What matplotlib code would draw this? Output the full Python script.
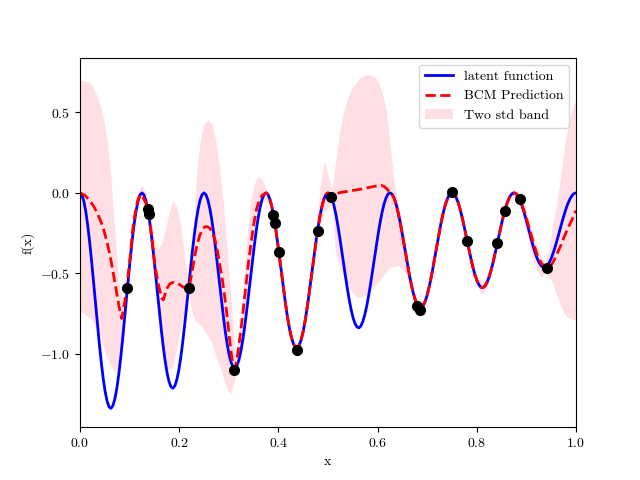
import numpy as np
import matplotlib
matplotlib.use('Agg')
import matplotlib.pyplot as plt

plt.rcParams['font.family'] = 'serif'
plt.rcParams['font.serif'] = ['cmr10']
plt.rcParams['mathtext.fontset'] = 'cm'
plt.rcParams['axes.formatter.use_mathtext'] = True

# latent function, sampled every 1/256 (one row per period)
latent_x = np.linspace(0.0, 1.0, 257)
latent_y = [
    0, -0.013, -0.053, -0.117, -0.203, -0.307, -0.425, -0.553, -0.684, -0.815, -0.941, -1.055, -1.155, -1.235, -1.294, -1.329,
    -1.338, -1.321, -1.279, -1.214, -1.128, -1.025, -0.908, -0.783, -0.653, -0.524, -0.401, -0.288, -0.189, -0.108, -0.049, -0.012,
    0, -0.012, -0.048, -0.106, -0.184, -0.279, -0.386, -0.502, -0.622, -0.741, -0.854, -0.958, -1.048, -1.121, -1.174, -1.205,
    -1.213, -1.197, -1.159, -1.100, -1.022, -0.928, -0.822, -0.708, -0.591, -0.474, -0.362, -0.260, -0.171, -0.098, -0.044, -0.011,
    0, -0.011, -0.044, -0.096, -0.166, -0.251, -0.348, -0.452, -0.559, -0.666, -0.768, -0.861, -0.942, -1.007, -1.054, -1.081,
    -1.088, -1.073, -1.039, -0.985, -0.915, -0.831, -0.736, -0.633, -0.528, -0.424, -0.324, -0.232, -0.152, -0.087, -0.039, -0.010,
    0, -0.010, -0.039, -0.085, -0.148, -0.223, -0.309, -0.402, -0.497, -0.591, -0.682, -0.764, -0.835, -0.892, -0.933, -0.957,
    -0.963, -0.949, -0.918, -0.871, -0.808, -0.733, -0.649, -0.559, -0.466, -0.373, -0.285, -0.204, -0.134, -0.077, -0.035, -0.009,
    0, -0.009, -0.034, -0.075, -0.129, -0.196, -0.271, -0.351, -0.434, -0.517, -0.595, -0.667, -0.728, -0.778, -0.813, -0.833,
    -0.838, -0.826, -0.798, -0.756, -0.702, -0.636, -0.563, -0.484, -0.403, -0.323, -0.246, -0.177, -0.116, -0.066, -0.030, -0.007,
    0, -0.007, -0.029, -0.064, -0.111, -0.168, -0.232, -0.301, -0.372, -0.442, -0.509, -0.569, -0.622, -0.663, -0.693, -0.710,
    -0.713, -0.702, -0.678, -0.642, -0.595, -0.539, -0.476, -0.409, -0.341, -0.273, -0.208, -0.149, -0.097, -0.056, -0.025, -0.006,
    0, -0.006, -0.024, -0.054, -0.093, -0.140, -0.193, -0.251, -0.309, -0.367, -0.422, -0.472, -0.515, -0.549, -0.573, -0.586,
    -0.588, -0.578, -0.558, -0.527, -0.488, -0.442, -0.390, -0.335, -0.278, -0.222, -0.169, -0.121, -0.079, -0.045, -0.020, -0.005,
    0, -0.005, -0.020, -0.043, -0.075, -0.112, -0.155, -0.200, -0.247, -0.293, -0.336, -0.375, -0.408, -0.434, -0.452, -0.462,
    -0.463, -0.454, -0.437, -0.413, -0.381, -0.345, -0.304, -0.260, -0.216, -0.172, -0.131, -0.093, -0.061, -0.035, -0.016, -0.004,
    0]

# two std band, sampled every 1/128
band_x = np.linspace(0.0, 1.0, 129)
band_hi = [0.70, 0.695, 0.69, 0.67, 0.625, 0.56, 0.47, 0.33,
           0.09, -0.25, -0.56, -0.69, -0.56, -0.35, -0.12, 0.01,
           0.05, 0.0, -0.11, -0.26, -0.35, -0.32, -0.23, -0.12,
           -0.045, -0.09, -0.20, -0.40, -0.56, -0.40, 0.10, 0.32,
           0.43, 0.455, 0.43, 0.33, 0.16, -0.065, -0.36, -0.67,
           -1.03, -0.88, -0.62, -0.30, -0.05, 0.06, 0.10, 0.08,
           0.03, -0.01, -0.12, -0.28, -0.47, -0.655, -0.81, -0.905,
           -0.935, -0.89, -0.78, -0.62, -0.43, -0.20, 0.05, 0.20,
           0.12, 0.02, 0.20, 0.38, 0.50, 0.58, 0.64, 0.68,
           0.71, 0.725, 0.735, 0.73, 0.72, 0.69, 0.62, 0.52,
           0.30, 0.08, -0.06, -0.17, -0.32, -0.47, -0.59, -0.665,
           -0.685, -0.65, -0.57, -0.45, -0.315, -0.18, -0.07, 0.0,
           0.025, 0.0, -0.065, -0.165, -0.28, -0.395, -0.485, -0.54,
           -0.55, -0.525, -0.46, -0.365, -0.25, -0.14, -0.05, 0.005,
           0.025, 0.005, -0.04, -0.10, -0.18, -0.26, -0.33, -0.40,
           -0.43, -0.36, -0.20, -0.07, 0.10, 0.29, 0.42, 0.52, 0.58]
band_lo = [-0.735, -0.75, -0.765, -0.785, -0.835, -0.88, -0.955, -1.02,
           -1.075, -1.115, -1.075, -0.80, -0.66, -0.43, -0.20, -0.08,
           -0.06, -0.10, -0.22, -0.46, -0.70, -0.95, -1.07, -1.10,
           -1.075, -0.96, -0.84, -0.71, -0.62, -0.75, -0.80, -0.82,
           -0.85, -0.885, -0.93, -1.01, -1.07, -1.15, -1.22, -1.25,
           -1.15, -1.02, -0.97, -0.74, -0.50, -0.27, -0.12, -0.05,
           -0.04, -0.07, -0.175, -0.335, -0.525, -0.71, -0.86, -0.96,
           -0.99, -0.945, -0.835, -0.68, -0.50, -0.33, -0.20, -0.12,
           -0.10, -0.06, -0.38, -0.46, -0.52, -0.57, -0.61, -0.64,
           -0.65, -0.645, -0.63, -0.61, -0.58, -0.555, -0.52, -0.49,
           -0.46, -0.46, -0.45, -0.47, -0.50, -0.56, -0.66, -0.72,
           -0.745, -0.705, -0.62, -0.50, -0.365, -0.235, -0.12, -0.05,
           -0.025, -0.05, -0.12, -0.22, -0.335, -0.45, -0.545, -0.605,
           -0.63, -0.59, -0.515, -0.415, -0.305, -0.195, -0.105, -0.045,
           -0.03, -0.05, -0.12, -0.22, -0.33, -0.42, -0.49, -0.52,
           -0.50, -0.52, -0.56, -0.63, -0.70, -0.75, -0.775, -0.785, -0.79]

# BCM prediction
bcm_x = [0, 0.01, 0.02, 0.027, 0.034, 0.041, 0.047, 0.054, 0.06, 0.066,
         0.071, 0.076, 0.079, 0.084, 0.089, 0.094, 0.0975, 0.101, 0.104, 0.107,
         0.111, 0.116, 0.121, 0.125, 0.131, 0.138, 0.144, 0.151, 0.158, 0.165,
         0.168, 0.174, 0.181, 0.188, 0.195, 0.201, 0.208, 0.214, 0.22, 0.226,
         0.232, 0.237, 0.242, 0.247, 0.252, 0.257, 0.262, 0.267, 0.272, 0.277,
         0.282, 0.287, 0.292, 0.297, 0.302, 0.306, 0.31, 0.314, 0.319, 0.324,
         0.329, 0.334, 0.339, 0.345, 0.351, 0.356, 0.361, 0.367,
         0.375, 0.3789, 0.3828, 0.3867, 0.3906, 0.3945, 0.3984, 0.4023,
         0.4063, 0.4102, 0.4141, 0.418, 0.4219, 0.4258, 0.4297, 0.4336,
         0.4375, 0.4414, 0.4453, 0.4492, 0.4531, 0.457, 0.4609, 0.4648,
         0.4688, 0.4727, 0.4766, 0.4805, 0.4844, 0.4883, 0.4922, 0.4961, 0.5,
         0.506, 0.515, 0.53, 0.55, 0.57, 0.59, 0.60, 0.607, 0.613, 0.619,
         0.625, 0.6289, 0.6328, 0.6367, 0.6406, 0.6445, 0.6484, 0.6523,
         0.6563, 0.6602, 0.6641, 0.668, 0.6719, 0.6758, 0.6797, 0.6836,
         0.6875, 0.6914, 0.6953, 0.6992, 0.7031, 0.707, 0.7109, 0.7148,
         0.7188, 0.7227, 0.7266, 0.7305, 0.7344, 0.7383, 0.7422, 0.7461,
         0.75, 0.7539, 0.7578, 0.7617, 0.7656, 0.7695, 0.7734, 0.7773,
         0.7813, 0.7852, 0.7891, 0.793, 0.7969, 0.8008, 0.8047, 0.8086,
         0.8125, 0.8164, 0.8203, 0.8242, 0.8281, 0.832, 0.8359, 0.8398,
         0.8438, 0.8477, 0.8516, 0.8555, 0.8594, 0.8633, 0.8672, 0.8711,
         0.875, 0.8789, 0.8828,
         0.8906, 0.8984, 0.9063, 0.9141, 0.9219, 0.9297,
         0.9375, 0.9453, 0.9531, 0.9609, 0.9688, 0.9766, 0.9844, 0.9922, 1.0]
bcm_y = [0, -0.015, -0.05, -0.08, -0.12, -0.17, -0.22, -0.30, -0.38, -0.48,
         -0.57, -0.66, -0.71, -0.78, -0.70, -0.59, -0.50, -0.40, -0.30, -0.21,
         -0.13, -0.05, -0.01, -0.02, -0.05, -0.11, -0.26, -0.45, -0.57, -0.655,
         -0.665, -0.60, -0.565, -0.555, -0.56, -0.57, -0.585, -0.59, -0.59, -0.49,
         -0.38, -0.31, -0.26, -0.225, -0.21, -0.21, -0.22, -0.25, -0.29, -0.36,
         -0.45, -0.54, -0.65, -0.78, -0.92, -1.02, -1.09, -1.07, -0.98, -0.86,
         -0.73, -0.59, -0.45, -0.31, -0.18, -0.10, -0.05, -0.015,
         0, -0.010, -0.039, -0.085, -0.148, -0.223, -0.309, -0.402,
         -0.497, -0.591, -0.682, -0.764, -0.835, -0.892, -0.933, -0.957,
         -0.963, -0.949, -0.918, -0.871, -0.808, -0.733, -0.649, -0.559,
         -0.466, -0.373, -0.285, -0.204, -0.134, -0.077, -0.035, -0.009, 0,
         -0.02, -0.005, 0.005, 0.015, 0.025, 0.038, 0.045, 0.047, 0.04, 0.025,
         0, -0.007, -0.029, -0.064, -0.111, -0.168, -0.232, -0.301,
         -0.372, -0.442, -0.509, -0.569, -0.622, -0.663, -0.693, -0.710,
         -0.713, -0.702, -0.678, -0.642, -0.595, -0.539, -0.476, -0.409,
         -0.341, -0.273, -0.208, -0.149, -0.097, -0.056, -0.025, -0.006,
         0, -0.006, -0.024, -0.054, -0.093, -0.140, -0.193, -0.251,
         -0.309, -0.367, -0.422, -0.472, -0.515, -0.549, -0.573, -0.586,
         -0.588, -0.578, -0.558, -0.527, -0.488, -0.442, -0.390, -0.335,
         -0.278, -0.222, -0.169, -0.121, -0.079, -0.045, -0.020, -0.005,
         0, -0.005, -0.020,
         -0.07, -0.14, -0.225, -0.31, -0.385, -0.435,
         -0.46, -0.465, -0.435, -0.385, -0.33, -0.27, -0.215, -0.165, -0.11]

# observations
obs_x = [0.095, 0.137, 0.139, 0.220, 0.310, 0.389, 0.393, 0.401, 0.4375, 0.480,
         0.506, 0.679, 0.685, 0.750, 0.780, 0.840, 0.857, 0.887, 0.941]
obs_y = [-0.59, -0.10, -0.13, -0.59, -1.10, -0.14, -0.19, -0.37, -0.975, -0.235,
         -0.025, -0.70, -0.725, 0.005, -0.30, -0.31, -0.11, -0.04, -0.466]

fig = plt.figure(figsize=(6.4, 4.8), dpi=100)
ax = fig.add_subplot(111)

ax.plot(latent_x, latent_y, 'b-', lw=2, label='latent function')
ax.plot(bcm_x, bcm_y, 'r--', lw=2, label='BCM Prediction')
ax.fill_between(band_x, band_lo, band_hi, color='pink', alpha=0.5,
                lw=0, label='Two std band')
ax.plot(obs_x, obs_y, 'ko', ms=7)

ax.set_xlim(0, 1)
ax.set_ylim(-1.455, 0.84)
ax.set_xlabel('x')
ax.set_ylabel('f(x)')
ax.legend(loc='upper right')

fig.savefig('out.png')
